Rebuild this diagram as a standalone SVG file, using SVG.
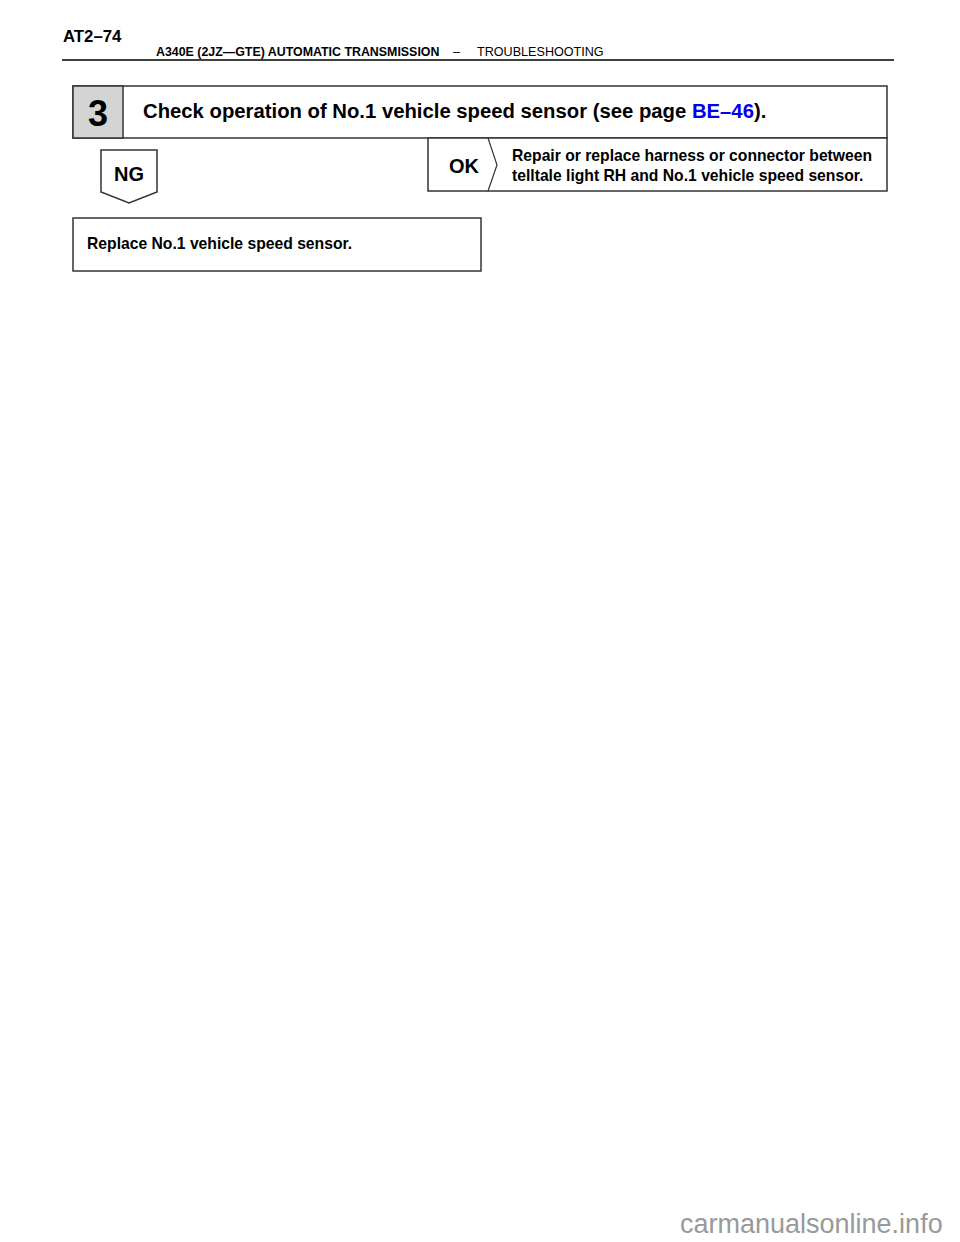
<svg xmlns="http://www.w3.org/2000/svg" width="960" height="1242" viewBox="0 0 960 1242">
<style>
.b{font-family:"Liberation Sans",Arial,sans-serif;font-weight:bold;fill:#000}
.r{font-family:"Liberation Sans",Arial,sans-serif;fill:#000}
.box{fill:#fff;stroke:#333;stroke-width:1.5}
</style>
<rect width="960" height="1242" fill="#fff"/>
<g id="header">
<text class="b" x="63" y="42" font-size="16.8">AT2–74</text>
<text class="b" x="156" y="56" font-size="12.4">A340E (2JZ—GTE) AUTOMATIC TRANSMISSION</text>
<text class="r" x="453" y="56" font-size="12.4">–</text>
<text class="r" x="477" y="56" font-size="12.6">TROUBLESHOOTING</text>
<line x1="62" y1="60" x2="894" y2="60" stroke="#000" stroke-width="1.5"/>
</g>
<g id="step3">
<rect class="box" x="73" y="86" width="814" height="52"/>
<rect x="73" y="86" width="50" height="52" fill="#d4d4d4" stroke="#333" stroke-width="1.5"/>
<text class="b" x="98" y="126" font-size="36" text-anchor="middle">3</text>
<text class="b" x="143" y="118" font-size="20.3">Check operation of No.1 vehicle speed sensor (see page <tspan fill="#0000ee">BE–46</tspan>).</text>
</g>
<g id="ok">
<rect class="box" x="428" y="138" width="459" height="53"/>
<polyline points="488,138 497,165 488,191" fill="none" stroke="#333" stroke-width="1.2"/>
<text class="b" x="464" y="173" font-size="20" text-anchor="middle">OK</text>
<text class="b" x="512" y="161" font-size="15.7">Repair or replace harness or connector between</text>
<text class="b" x="512" y="181" font-size="15.7">telltale light RH and No.1 vehicle speed sensor.</text>
</g>
<g id="ng">
<polygon points="101,150 157,150 157,192 129,203 101,192" fill="#fff" stroke="#333" stroke-width="1.5"/>
<text class="b" x="129" y="181" font-size="20" text-anchor="middle">NG</text>
</g>
<g id="replace">
<rect class="box" x="73" y="218" width="408" height="53"/>
<text class="b" x="87" y="249" font-size="15.7">Replace No.1 vehicle speed sensor.</text>
</g>
<g id="connectors"></g>
<text x="680" y="1233" font-family="'Liberation Sans',Arial,sans-serif" font-size="27" fill="#999">carmanualsonline.info</text>
</svg>
